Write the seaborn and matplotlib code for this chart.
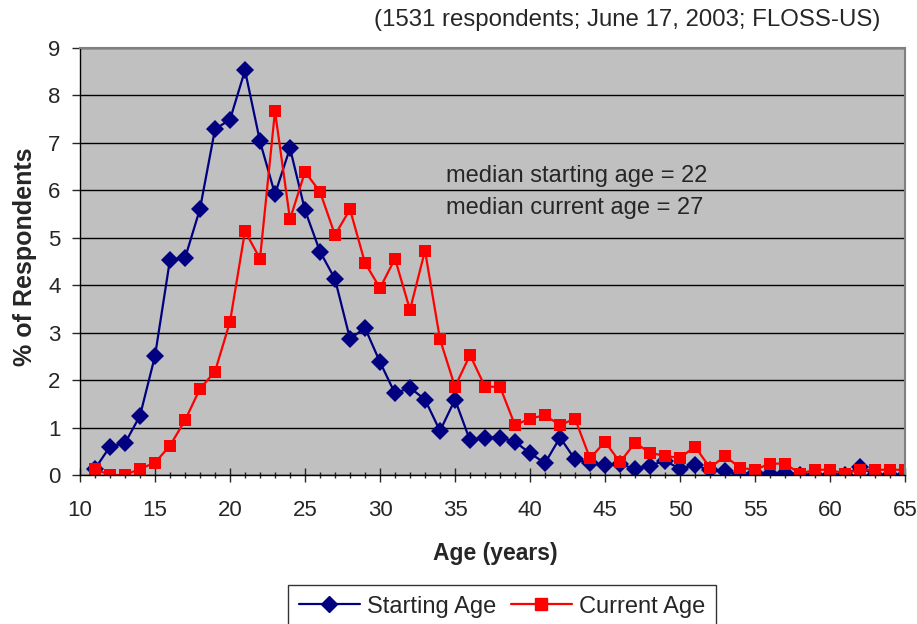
import numpy as np
import pandas as pd
import matplotlib
matplotlib.use('Agg')
import matplotlib.pyplot as plt
import seaborn as sns
from matplotlib.ticker import MultipleLocator


ages = list(range(11, 66))

startingAge = [
    0.13, 0.60, 0.67, 1.25, 2.51, 4.54, 4.57, 5.61, 7.29, 7.49,
    8.53, 7.03, 5.92, 6.89, 5.58, 4.71, 4.13, 2.87, 3.10, 2.38,
    1.72, 1.84, 1.59, 0.93, 1.59, 0.73, 0.79, 0.79, 0.70, 0.46,
    0.25, 0.79, 0.33, 0.25, 0.21, 0.24, 0.12, 0.20, 0.30, 0.13,
    0.21, 0.10, 0.08, 0.00, 0.05, 0.02, 0.05, 0.00, 0.00, 0.00,
    0.00, 0.17, 0.00, 0.00, 0.00
]

currentAge = [
    0.12, 0.00, 0.00, 0.13, 0.26, 0.62, 1.15, 1.82, 2.18, 3.23,
    5.14, 4.56, 7.67, 5.39, 6.39, 5.97, 5.06, 5.60, 4.47, 3.94,
    4.56, 3.48, 4.73, 2.86, 1.86, 2.53, 1.86, 1.86, 1.05, 1.19,
    1.26, 1.05, 1.19, 0.35, 0.70, 0.27, 0.68, 0.47, 0.40, 0.36,
    0.60, 0.15, 0.40, 0.15, 0.11, 0.24, 0.24, 0.03, 0.11, 0.11,
    0.03, 0.11, 0.11, 0.11, 0.11
]

seriesNames = ['Starting Age', 'Current Age']
seriesColors = ['#000080', '#FF0000']

titleText = '(1531 respondents; June 17, 2003; FLOSS-US)'
noteLines = ['median starting age = 22', 'median current age = 27']


df = pd.DataFrame({
    'age':    ages * 2,
    'pct':    startingAge + currentAge,
    'series': [seriesNames[0]] * len(ages) + [seriesNames[1]] * len(ages),
})

sns.set_style('white')
plt.rcParams['font.family'] = ['Liberation Sans', 'DejaVu Sans']

fig = plt.figure(figsize=(9.17, 6.24), dpi=100)
ax = fig.add_axes([80 / 917, 1 - 475 / 624, 825 / 917, 427 / 624])
ax.set_facecolor('#C0C0C0')

sns.lineplot(data=df, x='age', y='pct', hue='series', style='series',
             markers=['D', 's'], dashes=False, palette=seriesColors,
             hue_order=seriesNames, style_order=seriesNames,
             markersize=9, linewidth=1.6, markeredgewidth=0,
             ax=ax, legend=False)

ax.set_xlim(10, 65)
ax.set_ylim(0, 9)
ax.xaxis.set_major_locator(MultipleLocator(5))
ax.xaxis.set_minor_locator(MultipleLocator(1))
ax.yaxis.set_major_locator(MultipleLocator(1))
ax.grid(axis='y', color='black', linewidth=1.0)
ax.set_axisbelow(True)

for side in ['top', 'right']:
    ax.spines[side].set_color('#808080')
    ax.spines[side].set_linewidth(1.5)
for side in ['left', 'bottom']:
    ax.spines[side].set_color('black')
    ax.spines[side].set_linewidth(1.0)

ax.tick_params(axis='x', which='major', direction='inout', length=10, width=1,
               labelsize=16, bottom=True, pad=13)
ax.tick_params(axis='x', which='minor', direction='inout', length=5, width=1, bottom=True)
ax.tick_params(axis='y', which='major', direction='out', length=6, width=1,
               labelsize=16, left=True, pad=8)

ax.set_xlabel('Age (years)', fontsize=16.5, fontweight='bold')
ax.set_ylabel('% of Respondents', fontsize=18, fontweight='bold')
ax.xaxis.set_label_coords(0.504, -0.157)
ax.yaxis.set_label_coords(-0.052, 0.51)

fig.text(880 / 917, 1 - 20 / 624, titleText, ha='right', va='center', fontsize=17.3)
ax.text(34.4, 6.3, noteLines[0], ha='left', va='center', fontsize=17)
ax.text(34.4, 5.63, noteLines[1], ha='left', va='center', fontsize=17)

handles = [
    plt.Line2D([], [], color=seriesColors[0], marker='D', markersize=8, linewidth=1.6),
    plt.Line2D([], [], color=seriesColors[1], marker='s', markersize=8, linewidth=1.6),
]
leg = fig.legend(handles, seriesNames, loc='upper center', ncol=2,
                 bbox_to_anchor=(502 / 917, 1 - 585 / 624), fontsize=17,
                 frameon=True, fancybox=False, edgecolor='black',
                 handlelength=2.6, columnspacing=0.6, handletextpad=0.3,
                 borderpad=0.45, borderaxespad=0, numpoints=1)
leg.get_frame().set_linewidth(1.0)

fig.savefig('out.png', dpi=100)
